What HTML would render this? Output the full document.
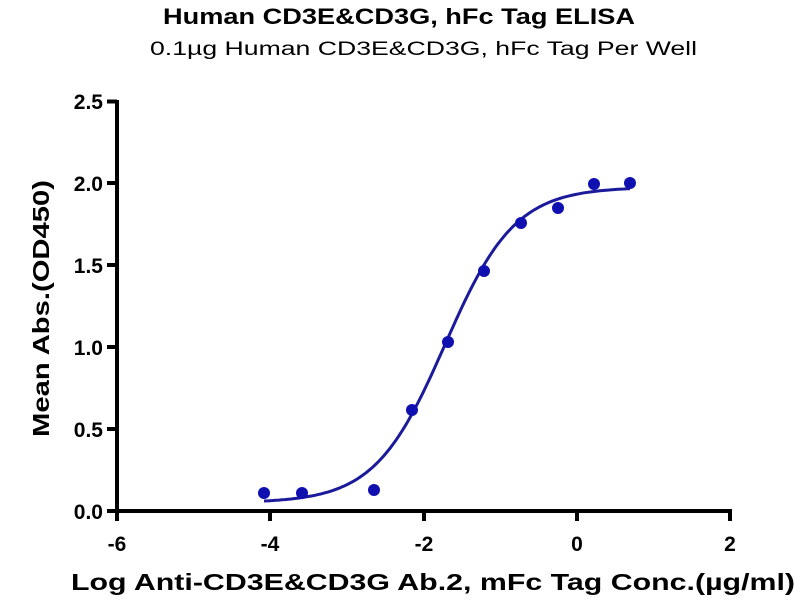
<!DOCTYPE html>
<html><head><meta charset="utf-8"><style>
body{margin:0;background:#fff;width:800px;height:600px;overflow:hidden}
text{font-family:"Liberation Sans",Arial,sans-serif}
</style></head><body>
<svg id="s" width="800" height="600" viewBox="0 0 800 600">
<text x="163" y="24" font-size="22" font-weight="bold" textLength="472" lengthAdjust="spacingAndGlyphs">Human CD3E&amp;CD3G, hFc Tag ELISA</text>
<text x="150" y="55" font-size="19" textLength="547" lengthAdjust="spacingAndGlyphs">0.1µg Human CD3E&amp;CD3G, hFc Tag Per Well</text>
<g stroke="#000" stroke-width="4" fill="none">
<line x1="117" y1="100" x2="117" y2="512"/>
<line x1="115" y1="511" x2="732" y2="511"/>
<line x1="107" y1="101.5" x2="117" y2="101.5"/>
<line x1="107" y1="183" x2="117" y2="183"/>
<line x1="107" y1="265" x2="117" y2="265"/>
<line x1="107" y1="347" x2="117" y2="347"/>
<line x1="107" y1="429" x2="117" y2="429"/>
<line x1="107" y1="511" x2="117" y2="511"/>
<line x1="117" y1="511" x2="117" y2="521"/>
<line x1="270" y1="511" x2="270" y2="521"/>
<line x1="424" y1="511" x2="424" y2="521"/>
<line x1="577" y1="511" x2="577" y2="521"/>
<line x1="730" y1="511" x2="730" y2="521"/>
</g>
<g font-size="21" font-weight="bold" text-anchor="end">
<text x="103" y="109">2.5</text><text x="103" y="191">2.0</text><text x="103" y="273">1.5</text>
<text x="103" y="355">1.0</text><text x="103" y="437">0.5</text><text x="103" y="519">0.0</text>
</g>
<g font-size="21" font-weight="bold" text-anchor="middle">
<text x="117" y="551">-6</text><text x="270" y="551">-4</text><text x="424" y="551">-2</text>
<text x="577" y="551">0</text><text x="730" y="551">2</text>
</g>
<text x="71" y="590" font-size="23" font-weight="bold" textLength="724" lengthAdjust="spacingAndGlyphs">Log Anti-CD3E&amp;CD3G Ab.2, mFc Tag Conc.(µg/ml)</text>
<text transform="translate(49,437) rotate(-90)" font-size="23" font-weight="bold" textLength="257" lengthAdjust="spacingAndGlyphs">Mean Abs.(OD450)</text>
<path id="c" fill="none" stroke="#1a1a9a" stroke-width="3"/>
<g fill="#1010b0">
<circle cx="264" cy="493" r="6"/><circle cx="302" cy="493" r="6"/><circle cx="374" cy="490" r="6"/>
<circle cx="412" cy="410" r="6"/><circle cx="448" cy="342" r="6"/><circle cx="484" cy="271" r="6"/>
<circle cx="521" cy="223" r="6"/><circle cx="558" cy="208" r="6"/><circle cx="594" cy="184" r="6"/>
<circle cx="630" cy="183" r="6"/>
</g>
</svg>
<script>
var d="";for(var x=264;x<=630;x+=3){var lx=(x-117)/76.6-6;var y=0.05+(1.93)/(1+Math.pow(10,(-1.72-lx)*0.95));var py=511-y*163.6;d+=(d?"L":"M")+x+","+py.toFixed(1);}
document.getElementById("c").setAttribute("d",d);
</script>
</body></html>
